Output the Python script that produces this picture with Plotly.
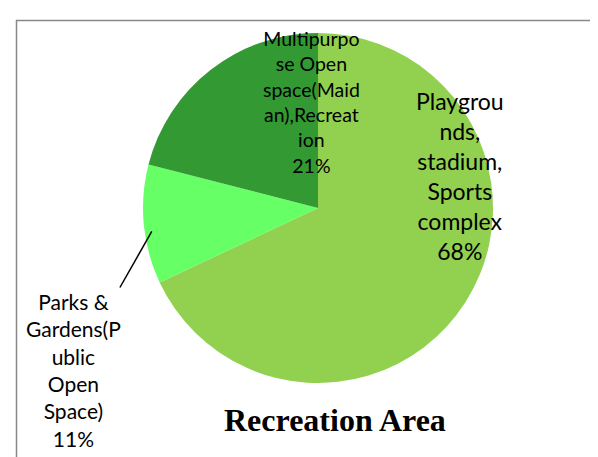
import math
import plotly.graph_objects as go

# ---- data ----
categories = ["Playgrounds, stadium, Sports complex",
              "Parks & Gardens(Public Open Space)",
              "Multipurpose Open space(Maidan),Recreation"]
label_text = ["Playgrou<br>nds,<br>stadium,<br>Sports<br>complex",
              "Parks &<br>Gardens(P<br>ublic<br>Open<br>Space)",
              "Multipurpo<br>se Open<br>space(Maid<br>an),Recreat<br>ion"]
values = [68, 11, 21]
colors = ["#92D050", "#66FF66", "#339933"]
title_text = "Recreation Area"

W, H = 598, 457
def px(x): return x / W
def py(y): return 1 - y / H

fig = go.Figure()
fig.add_trace(go.Pie(
    labels=categories, values=values, sort=False, direction="clockwise",
    rotation=0, textinfo="none", hoverinfo="label+percent",
    marker=dict(colors=colors, line=dict(width=0)),
    domain=dict(x=[px(135), px(485)], y=[py(375), py(25)]),
    showlegend=False,
))

total = sum(values)
pct = [f"{round(v * 100 / total)}%" for v in values]
font_family = "Lato, 'Open Sans', sans-serif"

ann = []
ann.append(dict(x=px(452), y=py(168), xref="paper", yref="paper", showarrow=False,
                xanchor="center", yanchor="middle",
                text=label_text[0] + "<br>" + pct[0],
                font=dict(family=font_family, size=23, color="black")))
ann.append(dict(x=px(303), y=py(94), xref="paper", yref="paper", showarrow=False,
                xanchor="center", yanchor="middle",
                text=label_text[2] + "<br>" + pct[2],
                font=dict(family=font_family, size=19.5, color="black")))
# Parks label with leader line to the slice edge
cx, cy, r = 318, 207, 175
start = values[0] / total * 360
mid = start + values[1] / total * 360 / 2
ex = cx + r * math.sin(math.radians(mid))
ey = cy - r * math.cos(math.radians(mid))
lx, ly = 65, 362
ann.append(dict(x=px(ex), y=py(ey), xref="paper", yref="paper", showarrow=True,
                arrowhead=0, arrowwidth=1.5, arrowcolor="black",
                ax=lx - ex, ay=ly - ey, axref="pixel", ayref="pixel",
                xanchor="center", yanchor="middle",
                text=label_text[1] + "<br>" + pct[1],
                font=dict(family=font_family, size=21, color="black")))
ann.append(dict(x=px(327), y=py(412), xref="paper", yref="paper", showarrow=False,
                xanchor="center", yanchor="middle",
                text="<b>" + title_text + "</b>",
                font=dict(family="'Liberation Serif', 'Times New Roman', serif", size=32, color="black")))

fig.update_layout(
    width=W, height=H,
    margin=dict(l=0, r=0, t=0, b=0),
    paper_bgcolor="white", plot_bgcolor="white",
    annotations=ann,
    shapes=[dict(type="rect", xref="paper", yref="paper",
                 x0=px(8.5), y0=py(12.5), x1=1.05, y1=-0.05,
                 line=dict(color="#888888", width=1.5), fillcolor="rgba(0,0,0,0)")],
)
fig.write_html("out.html")
